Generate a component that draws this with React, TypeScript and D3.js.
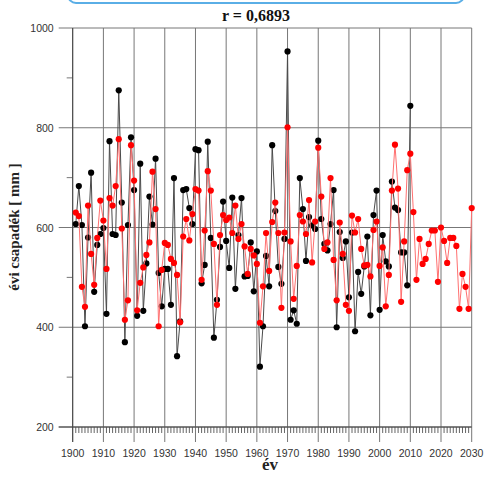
import React, { useEffect, useRef } from 'react';
import * as d3 from 'd3';

const TITLE = 'r = 0,6893';
const X_LABEL = 'év';
const Y_LABEL = 'évi csapadék [ mm ]';

const FIRST_YEAR = 1901;

// measured series (black), 1901–2010
const blackValues = [
  607, 683, 605, 402, 580, 710, 471, 565, 587, 599,
  427, 773, 587, 585, 875, 650, 370, 605, 781, 675,
  423, 728, 433, 528, 662, 606, 738, 509, 442, 517,
  517, 445, 699, 342, 412, 675, 677, 639, 607, 757,
  755, 488, 525, 772, 579, 379, 455, 561, 652, 573,
  519, 660, 477, 585, 659, 502, 503, 570, 472, 552,
  321, 402, 543, 482, 765, 633, 521, 487, 577, 953,
  415, 434, 407, 699, 637, 533, 621, 604, 597, 774,
  617, 567, 554, 607, 675, 400, 591, 539, 572, 460,
  590, 392, 511, 467, 522, 582, 424, 625, 674, 435,
  585, 532, 522, 692, 640, 635, 550, 550, 484, 844,
];

// modelled series (red), 1901–2030
const redValues = [
  630, 623, 481, 441, 644, 547, 485, 579, 654, 614,
  517, 659, 644, 683, 777, 598, 415, 454, 765, 694,
  434, 489, 520, 545, 570, 712, 637, 402, 515, 569,
  565, 537, 529, 505, 410, 582, 617, 574, 627, 677,
  674, 495, 594, 713, 674, 567, 445, 585, 625, 615,
  620, 589, 644, 577, 607, 562, 507, 557, 544, 527,
  409, 482, 589, 513, 611, 650, 589, 439, 590, 801,
  572, 457, 523, 625, 612, 587, 655, 530, 612, 760,
  662, 557, 570, 699, 535, 454, 610, 547, 445, 433,
  624, 590, 617, 557, 524, 525, 502, 595, 612, 523,
  560, 442, 505, 674, 766, 678, 451, 572, 715, 748,
  631, 495, 577, 527, 537, 567, 594, 594, 491, 600,
  573, 529, 579, 579, 563, 437, 507, 481, 437, 639,
];

const xTicks = [1900, 1910, 1920, 1930, 1940, 1950, 1960, 1970, 1980, 1990, 2000, 2010, 2020, 2030];
const yTicks = [200, 400, 600, 800, 1000];
const yMinorTicks = [300, 500, 700, 900];

export default function App() {
  const ref = useRef<SVGSVGElement | null>(null);

  useEffect(() => {
    document.body.style.margin = '0';
    const svg = d3.select(ref.current);
    svg.selectAll('*').remove();

    const x = d3.scaleLinear().domain([1900, 2030]).range([72.7, 471.7]);
    const y = d3.scaleLinear().domain([200, 1000]).range([427, 28]);
    const [x0, x1] = x.range();
    const [yb, yt] = y.range();

    // blue box peeking in at the top
    svg.append('rect')
      .attr('x', 68).attr('y', -24).attr('width', 396).attr('height', 27)
      .attr('rx', 8)
      .attr('fill', '#fff')
      .attr('stroke', '#5aaee6')
      .attr('stroke-width', 2);

    svg.append('text')
      .attr('x', 256).attr('y', 21)
      .attr('text-anchor', 'middle')
      .attr('font-family', '"Liberation Serif", "Times New Roman", serif')
      .attr('font-weight', 'bold')
      .attr('font-size', '16px')
      .attr('fill', '#111')
      .text(TITLE);

    const grid = svg.append('g').attr('stroke', '#777').attr('stroke-width', 1);

    // vertical grid, continuing below the axis as major ticks
    xTicks.forEach((t) => {
      grid.append('line')
        .attr('x1', x(t)).attr('x2', x(t))
        .attr('y1', yt).attr('y2', yb + 15);
    });

    // horizontal grid, continuing left of the axis as major ticks
    yTicks.forEach((t) => {
      grid.append('line')
        .attr('x1', x0 - 14).attr('x2', x1)
        .attr('y1', y(t)).attr('y2', y(t));
    });

    yMinorTicks.forEach((t) => {
      grid.append('line')
        .attr('x1', x0 - 6).attr('x2', x0)
        .attr('y1', y(t)).attr('y2', y(t));
    });

    d3.range(1900, 2031).forEach((yr) => {
      if (yr % 10 === 0) return;
      grid.append('line')
        .attr('x1', x(yr)).attr('x2', x(yr))
        .attr('y1', yb).attr('y2', yb + 6)
        .attr('stroke', '#666');
    });

    // axes lines
    svg.append('line')
      .attr('x1', x0 - 14).attr('x2', x1).attr('y1', yb).attr('y2', yb)
      .attr('stroke', '#444');
    svg.append('line')
      .attr('x1', x0).attr('x2', x0).attr('y1', yt).attr('y2', yb + 15)
      .attr('stroke', '#444');

    const tickFont = '"Liberation Sans", Arial, sans-serif';

    xTicks.forEach((t) => {
      svg.append('text')
        .attr('x', x(t)).attr('y', yb + 30)
        .attr('text-anchor', 'middle')
        .attr('font-family', tickFont)
        .attr('font-size', '10.5px')
        .attr('fill', '#333')
        .text(t);
    });

    yTicks.forEach((t) => {
      svg.append('text')
        .attr('x', x0 - 19).attr('y', y(t))
        .attr('text-anchor', 'end')
        .attr('dominant-baseline', 'central')
        .attr('font-family', tickFont)
        .attr('font-size', '10.5px')
        .attr('fill', '#333')
        .text(t);
    });

    svg.append('text')
      .attr('x', 270).attr('y', 470)
      .attr('text-anchor', 'middle')
      .attr('font-family', '"Liberation Serif", "Times New Roman", serif')
      .attr('font-weight', 'bold')
      .attr('font-size', '17px')
      .attr('fill', '#222')
      .text(X_LABEL);

    svg.append('text')
      .attr('transform', `translate(19,227) rotate(-90)`)
      .attr('text-anchor', 'middle')
      .attr('font-family', '"Liberation Serif", "Times New Roman", serif')
      .attr('font-weight', 'bold')
      .attr('font-size', '15px')
      .attr('fill', '#222')
      .text(Y_LABEL);

    const series = [
      { values: blackValues, line: '#4a4a4a', dot: '#000' },
      { values: redValues, line: '#ff7070', dot: '#ff0000' },
    ];

    series.forEach((s) => {
      const pts = s.values.map((v, i) => [FIRST_YEAR + i, v] as [number, number]);
      const line = d3.line<[number, number]>()
        .x((d) => x(d[0]))
        .y((d) => y(d[1]));

      svg.append('path')
        .attr('d', line(pts))
        .attr('fill', 'none')
        .attr('stroke', s.line)
        .attr('stroke-width', 1);

      svg.append('g')
        .selectAll('circle')
        .data(pts)
        .join('circle')
        .attr('cx', (d) => x(d[0]))
        .attr('cy', (d) => y(d[1]))
        .attr('r', 3.1)
        .attr('fill', s.dot);
    });
  }, []);

  return (
    <svg ref={ref} width={485} height={477} style={{ display: 'block', background: '#fff' }} />
  );
}
